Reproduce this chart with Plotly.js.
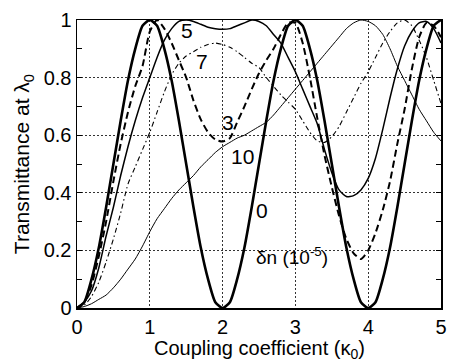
<!DOCTYPE html>
<html>
<head>
<meta charset="utf-8">
<script src="https://cdn.plot.ly/plotly-3.0.1.min.js"></script>
<style>html,body{margin:0;padding:0;background:#fff;}#chart{width:449px;height:362px;}</style>
</head>
<body>
<div id="chart"></div>
<script>
// Coupling coefficient (kappa_0) sample points
const kappa = [0,0.1,0.2,0.3,0.4,0.5,0.6,0.7,0.8,0.9,1.0,1.1,1.2,1.3,1.4,1.5,1.6,1.7,1.8,1.9,2.0,
  2.1,2.2,2.3,2.4,2.5,2.6,2.7,2.8,2.9,3.0,3.1,3.2,3.3,3.4,3.5,3.6,3.7,3.8,3.9,4.0,
  4.1,4.2,4.3,4.4,4.5,4.6,4.7,4.8,4.9,5.0];

// Transmittance at lambda_0 for each delta-n (x 1e-5)
const dn0 = [0,0.02,0.10,0.21,0.35,0.50,0.65,0.79,0.90,0.98,1.0,0.98,0.90,0.79,0.65,0.50,0.35,0.21,0.10,0.02,0.0,
  0.02,0.10,0.21,0.35,0.50,0.65,0.79,0.90,0.98,1.0,0.98,0.90,0.79,0.65,0.50,0.35,0.21,0.10,0.02,0.0,
  0.02,0.10,0.21,0.35,0.50,0.65,0.79,0.90,0.98,1.0];
const dn3 = [0,0.02,0.08,0.18,0.30,0.44,0.57,0.68,0.77,0.84,0.96,1.0,0.97,0.92,0.86,0.80,0.72,0.655,0.61,0.585,0.578,
  0.59,0.645,0.70,0.76,0.815,0.86,0.90,0.95,0.99,0.99,0.92,0.80,0.66,0.53,0.42,0.32,0.24,0.19,0.17,0.20,
  0.26,0.34,0.44,0.57,0.69,0.83,0.94,0.99,0.98,0.94];
const dn5 = [0,0.02,0.06,0.14,0.25,0.35,0.46,0.56,0.65,0.73,0.80,0.87,0.93,0.97,0.995,1.0,0.995,0.985,0.975,0.97,0.968,
  0.97,0.98,0.99,1.0,0.995,0.98,0.95,0.92,0.87,0.82,0.76,0.70,0.64,0.55,0.47,0.41,0.387,0.39,0.41,0.45,
  0.52,0.62,0.73,0.83,0.91,0.96,0.99,0.995,0.97,0.92];
const dn7 = [0,0.01,0.04,0.09,0.16,0.24,0.33,0.43,0.49,0.55,0.61,0.68,0.75,0.81,0.85,0.875,0.89,0.905,0.915,0.92,0.915,
  0.905,0.89,0.87,0.85,0.835,0.80,0.77,0.74,0.715,0.69,0.65,0.61,0.58,0.575,0.595,0.63,0.68,0.73,0.78,0.82,
  0.87,0.92,0.96,0.99,1.0,0.98,0.93,0.87,0.79,0.71];
const dn10 = [0,0.005,0.015,0.03,0.045,0.07,0.10,0.135,0.17,0.215,0.265,0.31,0.345,0.38,0.41,0.435,0.46,0.49,0.515,0.54,0.56,
  0.575,0.59,0.60,0.615,0.63,0.645,0.67,0.70,0.73,0.76,0.79,0.82,0.85,0.88,0.91,0.94,0.97,0.99,1.0,0.995,
  0.98,0.95,0.90,0.84,0.79,0.74,0.69,0.65,0.61,0.58];

const labels = ["0","3","5","7","10"];
const labelX = [2.54,2.08,1.51,1.72,2.27];
const labelY = [0.34,0.645,0.963,0.855,0.525];
const unitLabel = "δn (10<sup>-5</sup>)";
const xTitle = "Coupling coefficient (κ<sub>0</sub>)";
const yTitle = "Transmittance at λ<sub>0</sub>";

const font = "Liberation Sans, Arial, Helvetica, sans-serif";
const traces = [
  {x:kappa, y:dn10, mode:"lines", line:{color:"#000", width:1, shape:"spline", smoothing:0.6}},
  {x:kappa, y:dn7, mode:"lines", line:{color:"#000", width:1.1, dash:"5px,3px,1.5px,3px", shape:"spline", smoothing:0.6}},
  {x:kappa, y:dn5, mode:"lines", line:{color:"#000", width:1.5, shape:"spline", smoothing:0.6}},
  {x:kappa, y:dn3, mode:"lines", line:{color:"#000", width:2, dash:"7px,4px", shape:"spline", smoothing:0.6}},
  {x:kappa, y:dn0, mode:"lines", line:{color:"#000", width:2.6, shape:"spline", smoothing:0.6}}
];

const annotations = labels.map((t,i)=>({x:labelX[i], y:labelY[i], text:t, showarrow:false,
  font:{family:font, size:21, color:"#000"}}));
annotations.push({x:2.96, y:0.18, text:unitLabel, showarrow:false, font:{family:font, size:19, color:"#000"}});
annotations.push({xref:"paper", yref:"paper", x:0.5, y:-0.145, yanchor:"middle", xanchor:"center",
  text:xTitle, showarrow:false, font:{family:font, size:20, color:"#000"}});
annotations.push({xref:"paper", yref:"paper", x:-0.148, y:0.5, yanchor:"middle", xanchor:"center", textangle:-90,
  text:yTitle, showarrow:false, font:{family:font, size:21, color:"#000"}});

const layout = {
  width:449, height:362,
  margin:{l:77, r:8, t:20, b:54},
  paper_bgcolor:"#fff", plot_bgcolor:"#fff",
  showlegend:false,
  font:{family:font, size:20, color:"#000"},
  xaxis:{range:[0,5], tickvals:[0,1,2,3,4,5], ticktext:["0","1","2","3","4","5"],
    showgrid:true, gridcolor:"#000", griddash:"2px,2px", gridwidth:0.8,
    showline:true, linecolor:"#000", linewidth:1.5, mirror:true, zeroline:false,
    ticks:"", tickfont:{family:font, size:20}},
  yaxis:{range:[0,1], tickvals:[0,0.2,0.4,0.6,0.8,1], ticktext:["0","0.2","0.4","0.6","0.8","1"],
    showgrid:true, gridcolor:"#000", griddash:"2px,2px", gridwidth:0.8,
    showline:true, linecolor:"#000", linewidth:1.5, mirror:"ticks", zeroline:false,
    ticks:"inside", ticklen:5, tickcolor:"#000",
    minor:{tickvals:[0.1,0.3,0.5,0.7,0.9], ticks:"inside", ticklen:5, tickcolor:"#000", showgrid:false},
    tickfont:{family:font, size:20}},
  annotations:annotations
};

Plotly.newPlot("chart", traces, layout, {staticPlot:true, displayModeBar:false});
</script>
</body>
</html>
